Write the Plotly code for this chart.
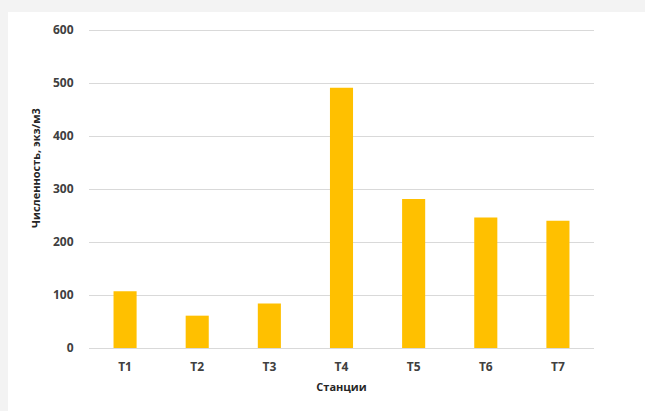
import plotly.graph_objects as go

stations = ["T1", "T2", "T3", "T4", "T5", "T6", "T7"]
abundance = [107, 61, 84, 491, 281, 246, 240]
y_ticks = [0, 100, 200, 300, 400, 500, 600]

W, H = 645, 411
L, R, T, B = 89, 51, 28, 63
pw, ph = W - L - R, H - T - B
# 0 at pixel 348, 600 at pixel 30 -> extend the range a little above 600
y_top = 600 * (H - B - T) / (H - B - 30)

def px_x(x):
    return (x - L) / pw

def px_y(y):
    return (H - B - y) / ph

fig = go.Figure(go.Bar(
    x=stations, y=abundance,
    marker=dict(color="#FFC000", line=dict(width=0)),
    width=0.32,
))

font_fam = "Open Sans, Liberation Sans, Arial, sans-serif"

fig.update_layout(
    width=W, height=H,
    margin=dict(l=L, r=R, t=T, b=B),
    paper_bgcolor="#f3f3f3",
    plot_bgcolor="rgba(0,0,0,0)",
    showlegend=False,
    font=dict(family=font_fam, color="#595959", size=12),
    xaxis=dict(
        showgrid=False, showline=False, zeroline=False,
        ticks="outside", ticklen=8, tickcolor="rgba(0,0,0,0)",
        tickfont=dict(size=12, color="#404040", family=font_fam, weight="bold"),
        title=dict(text="<b>Станции</b>", font=dict(size=11, color="#262626"), standoff=8),
    ),
    yaxis=dict(
        range=[0, y_top], tickvals=y_ticks, ticktext=[str(v) for v in y_ticks],
        showgrid=True, gridcolor="#d9d9d9", gridwidth=1,
        zeroline=True, zerolinecolor="#d9d9d9", zerolinewidth=1,
        showline=False,
        ticks="outside", ticklen=12, tickcolor="rgba(0,0,0,0)",
        tickfont=dict(size=12, color="#404040", family=font_fam, weight="bold"),
    ),
    shapes=[dict(
        type="rect", xref="paper", yref="paper", layer="below",
        x0=px_x(8), x1=px_x(W + 5), y0=px_y(H + 5), y1=px_y(12),
        fillcolor="white", line=dict(width=0),
    )],
    annotations=[dict(
        text="<b>Численность, экз/м3</b>", textangle=-90,
        xref="paper", yref="paper", x=px_x(35), y=px_y(168),
        showarrow=False, xanchor="center", yanchor="middle",
        font=dict(size=11, color="#262626", family=font_fam),
    )],
)

fig.write_html("out.html")
